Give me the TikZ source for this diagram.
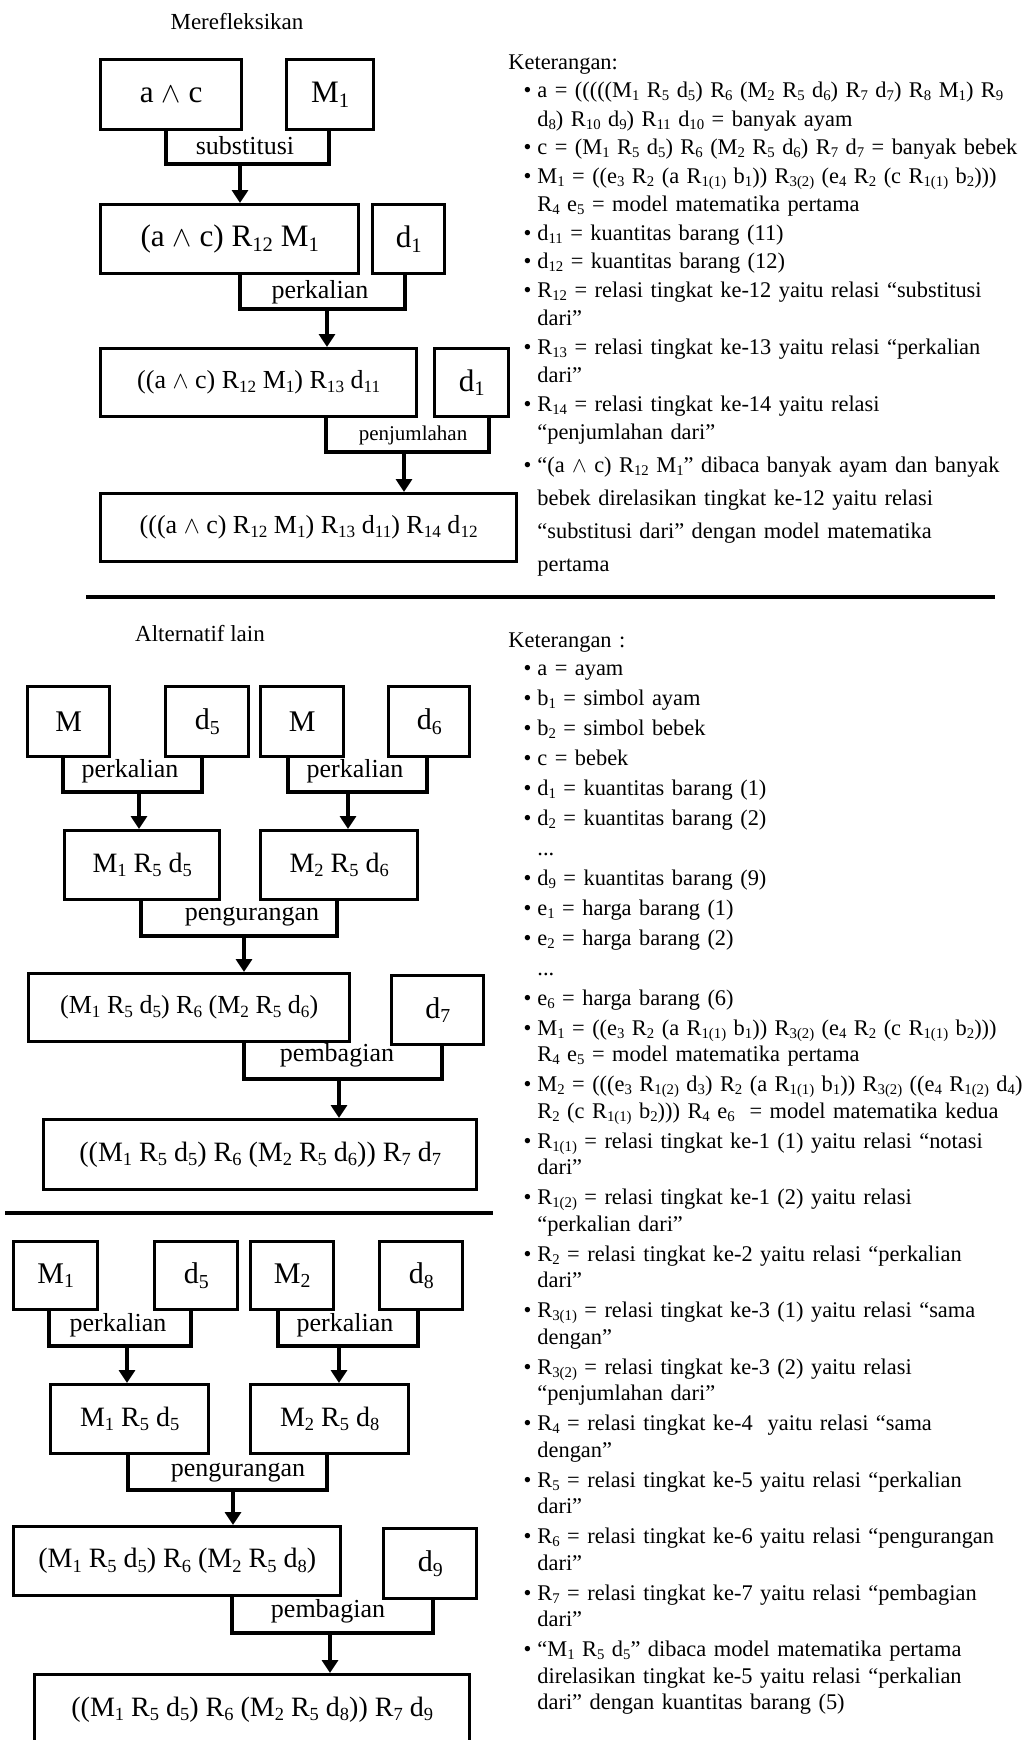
\documentclass[tikz,border=0pt]{standalone}
\usepackage{fontspec}
\usepackage{graphicx}
\setmainfont{Liberation Serif}
\usetikzlibrary{arrows.meta,positioning}

\newcommand\sbs[1]{\raisebox{-0.15em}{\scalebox{0.66}{#1}}}
\newenvironment{ketlist}[2]{%
  \begin{list}{\textbullet}{%
    \setlength\leftmargin{14.5pt}\setlength\labelsep{3pt}%
    \setlength\labelwidth{11.5pt}\setlength\itemindent{0pt}%
    \setlength\topsep{#1}\setlength\partopsep{0pt}%
    \setlength\itemsep{#2}\setlength\parsep{0pt}}}%
  {\end{list}}

\begin{document}
\begin{tikzpicture}[x=0.5pt,y=-0.5pt,
  bx/.style={draw,line width=1.7pt,inner sep=0pt,anchor=north west},
  sz/.style 2 args={minimum width=#1*0.5pt,minimum height=#2*0.5pt},
  fA/.style={font=\fontsize{15.6}{18}\selectfont},
  fS/.style={font=\fontsize{15}{18}\selectfont},
  fM/.style={font=\fontsize{14}{17}\selectfont},
  fC/.style={font=\fontsize{13}{16}\selectfont},
  lbl/.style={anchor=base,inner sep=0pt,font=\fontsize{13}{15}\selectfont},
  ttl/.style={anchor=base,inner sep=0pt,font=\fontsize{11.5}{14}\selectfont},
  ket/.style={anchor=base west,inner sep=0pt,text width=300pt,align=left},
  ln/.style={line width=1.7pt},
  ar/.style={line width=1.7pt,-{Triangle[width=8pt,length=6.5pt]}},
  sep/.style={line width=2pt}
]
\useasboundingbox (0,0) rectangle (1033,1740);
\clip (0,0) rectangle (1033,1740);

% --- Merefleksikan
\node[ttl] (tA) at (237,29) {Merefleksikan};
\node[bx,fA,sz={141}{70}] (ac) at (99,58) {a $\wedge$ c};
\node[bx,fA,sz={87}{70}] (mA) at (285,58) {M\sbs{1}};
\node[bx,fA,sz={258}{69}] (r2a) at (99,203) {(a $\wedge$ c) R\sbs{12} M\sbs{1}};
\node[bx,fA,sz={72}{69}] (dA) at (371,203) {d\sbs{1}};
\node[bx,fC,sz={316}{68}] (r3a) at (99,347) {((a $\wedge$ c) R\sbs{12} M\sbs{1}) R\sbs{13} d\sbs{11}};
\node[bx,fA,sz={74}{68}] (dB) at (433,347) {d\sbs{1}};
\node[bx,fC,sz={416}{68}] (endA) at (99,492) {(((a $\wedge$ c) R\sbs{12} M\sbs{1}) R\sbs{13} d\sbs{11}) R\sbs{14} d\sbs{12}};

\draw[sep] (86,597) -- (995,597);

% --- Alternatif lain
\node[ttl] (tB) at (200,641) {Alternatif lain};
\node[bx,fS,sz={82}{70}] (ma) at (26,685) {M};
\node[bx,fS,sz={83}{70}] (d5a) at (164,685) {d\sbs{5}};
\node[bx,fS,sz={83}{70}] (mb) at (259,685) {M};
\node[bx,fS,sz={81}{70}] (d6a) at (387,685) {d\sbs{6}};
\node[bx,fM,sz={155}{69}] (p1a) at (63,829) {M\sbs{1} R\sbs{5} d\sbs{5}};
\node[bx,fM,sz={157}{69}] (p2a) at (259,829) {M\sbs{2} R\sbs{5} d\sbs{6}};
\node[bx,fC,sz={321}{68}] (q1a) at (27,972) {(M\sbs{1} R\sbs{5} d\sbs{5}) R\sbs{6} (M\sbs{2} R\sbs{5} d\sbs{6})};
\node[bx,fS,sz={92}{69}] (d7a) at (390,974) {d\sbs{7}};
\node[bx,fM,sz={433}{70}] (endB) at (42,1118) {((M\sbs{1} R\sbs{5} d\sbs{5}) R\sbs{6} (M\sbs{2} R\sbs{5} d\sbs{6})) R\sbs{7} d\sbs{7}};

\draw[sep] (5,1213) -- (493,1213);

% --- third variant
\node[bx,fS,sz={84}{68}] (m1c) at (12,1240) {M\sbs{1}};
\node[bx,fS,sz={83}{68}] (d5c) at (153,1240) {d\sbs{5}};
\node[bx,fS,sz={83}{68}] (m2c) at (249,1240) {M\sbs{2}};
\node[bx,fS,sz={83}{68}] (d8c) at (378,1240) {d\sbs{8}};
\node[bx,fM,sz={158}{69}] (p1c) at (49,1383) {M\sbs{1} R\sbs{5} d\sbs{5}};
\node[bx,fM,sz={158}{69}] (p2c) at (249,1383) {M\sbs{2} R\sbs{5} d\sbs{8}};
\node[bx,fM,sz={327}{69}] (q1c) at (12,1525) {(M\sbs{1} R\sbs{5} d\sbs{5}) R\sbs{6} (M\sbs{2} R\sbs{5} d\sbs{8})};
\node[bx,fS,sz={93}{70}] (d9c) at (382,1527) {d\sbs{9}};
\node[bx,fM,sz={435}{70}] (endC) at (33,1673) {((M\sbs{1} R\sbs{5} d\sbs{5}) R\sbs{6} (M\sbs{2} R\sbs{5} d\sbs{8})) R\sbs{7} d\sbs{9}};

% brackets: left box / right box / legs / bottom / label / arrow / target
\foreach \a/\b/\l/\r/\yb/\lx/\ly/\txt/\ax/\c in {
  ac/mA/166/329/164/245/154/substitusi/240/r2a,
  r2a/dA/240/405/309/320/298/perkalian/327/r3a,
  r3a/dB/326/489/452/413/440/{\fontsize{10.5}{12}\selectfont penjumlahan}/404/endA,
  ma/d5a/63/202/792/130/777/perkalian/139/p1a,
  mb/d6a/288/427/792/355/777/perkalian/348/p2a,
  p1a/p2a/141/337/936/252/920/pengurangan/244/q1a,
  q1a/d7a/244/442/1079/337/1061/pembagian/339/endB,
  m1c/d5c/49/191/1346/118/1331/perkalian/127/p1c,
  m2c/d8c/278/418/1346/345/1331/perkalian/339/p2c,
  p1c/p2c/128/327/1490/238/1476/pengurangan/233/q1c,
  q1c/d9c/232/433/1633/328/1617/pembagian/330/endC}
{
  \draw[ln] (\a.south -| \l,0) -- (\l,\yb) -- (\r,\yb) -- (\b.south -| \r,0);
  \node[lbl] (lb-\a) at (\lx,\ly) {\txt};
  \draw[ar] (\ax,\yb) -- (\c.north -| \ax,0);
}

% keterangan
\node[ket,font=\fontsize{11.2}{14.25}\selectfont] (ketA) at (508,69) {\noindent Keterangan:
\begin{ketlist}{0pt}{0pt}
\item a = (((((M\sbs{1} R\sbs{5} d\sbs{5}) R\sbs{6} (M\sbs{2} R\sbs{5} d\sbs{6}) R\sbs{7} d\sbs{7}) R\sbs{8} M\sbs{1}) R\sbs{9}\newline
d\sbs{8}) R\sbs{10} d\sbs{9}) R\sbs{11} d\sbs{10} = banyak ayam
\item c = (M\sbs{1} R\sbs{5} d\sbs{5}) R\sbs{6} (M\sbs{2} R\sbs{5} d\sbs{6}) R\sbs{7} d\sbs{7} = banyak bebek
\item M\sbs{1} = ((e\sbs{3} R\sbs{2} (a R\sbs{1(1)} b\sbs{1})) R\sbs{3(2)} (e\sbs{4} R\sbs{2} (c R\sbs{1(1)} b\sbs{2})))\newline
R\sbs{4} e\sbs{5} = model matematika pertama
\item d\sbs{11} = kuantitas barang (11)
\item d\sbs{12} = kuantitas barang (12)
\item R\sbs{12} = relasi tingkat ke-12 yaitu relasi “substitusi\newline dari”
\item R\sbs{13} = relasi tingkat ke-13 yaitu relasi “perkalian\newline dari”
\item R\sbs{14} = relasi tingkat ke-14 yaitu relasi\newline “penjumlahan dari”
\item \fontsize{11.2}{16.5}\selectfont “(a $\wedge$ c) R\sbs{12} M\sbs{1}” dibaca banyak ayam dan banyak\newline
bebek direlasikan tingkat ke-12 yaitu relasi\newline
“substitusi dari” dengan model matematika\newline
pertama
\end{ketlist}};

\node[ket,font=\fontsize{11.2}{13.25}\selectfont] (ketB) at (508,647) {\noindent Keterangan :
\begin{ketlist}{0.75pt}{1.75pt}
\item a = ayam
\item b\sbs{1} = simbol ayam
\item b\sbs{2} = simbol bebek
\item c = bebek
\item d\sbs{1} = kuantitas barang (1)
\item d\sbs{2} = kuantitas barang (2)
\item[] ...
\item d\sbs{9} = kuantitas barang (9)
\item e\sbs{1} = harga barang (1)
\item e\sbs{2} = harga barang (2)
\item[] ...
\item e\sbs{6} = harga barang (6)
\item M\sbs{1} = ((e\sbs{3} R\sbs{2} (a R\sbs{1(1)} b\sbs{1})) R\sbs{3(2)} (e\sbs{4} R\sbs{2} (c R\sbs{1(1)} b\sbs{2})))\newline
R\sbs{4} e\sbs{5} = model matematika pertama
\item M\sbs{2} = (((e\sbs{3} R\sbs{1(2)} d\sbs{3}) R\sbs{2} (a R\sbs{1(1)} b\sbs{1})) R\sbs{3(2)} ((e\sbs{4} R\sbs{1(2)} d\sbs{4})\newline
R\sbs{2} (c R\sbs{1(1)} b\sbs{2}))) R\sbs{4} e\sbs{6}\ \ = model matematika kedua
\item R\sbs{1(1)} = relasi tingkat ke-1 (1) yaitu relasi “notasi\newline dari”
\item R\sbs{1(2)} = relasi tingkat ke-1 (2) yaitu relasi\newline “perkalian dari”
\item R\sbs{2} = relasi tingkat ke-2 yaitu relasi “perkalian\newline dari”
\item R\sbs{3(1)} = relasi tingkat ke-3 (1) yaitu relasi “sama\newline dengan”
\item R\sbs{3(2)} = relasi tingkat ke-3 (2) yaitu relasi\newline “penjumlahan dari”
\item R\sbs{4} = relasi tingkat ke-4\ \ yaitu relasi “sama\newline dengan”
\item R\sbs{5} = relasi tingkat ke-5 yaitu relasi “perkalian\newline dari”
\item R\sbs{6} = relasi tingkat ke-6 yaitu relasi “pengurangan\newline dari”
\item R\sbs{7} = relasi tingkat ke-7 yaitu relasi “pembagian\newline dari”
\item “M\sbs{1} R\sbs{5} d\sbs{5}” dibaca model matematika pertama\newline
direlasikan tingkat ke-5 yaitu relasi “perkalian\newline
dari” dengan kuantitas barang (5)
\end{ketlist}};
\end{tikzpicture}
\end{document}
